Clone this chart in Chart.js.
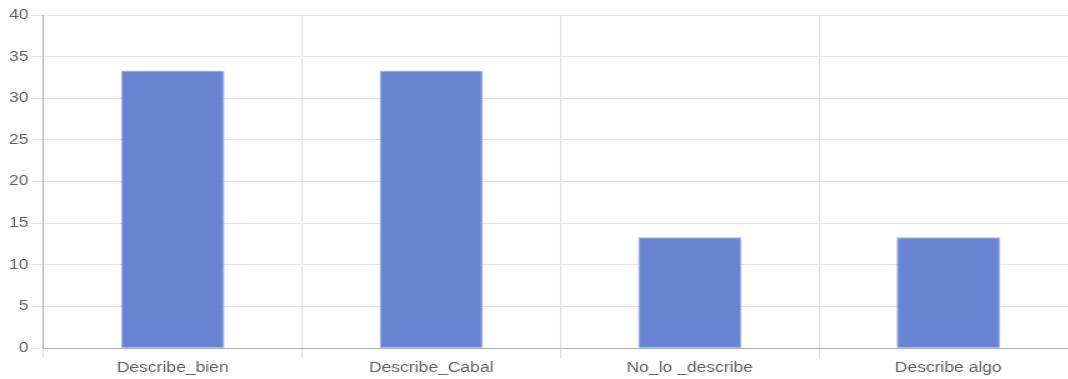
<!DOCTYPE html>
<html>
<head>
<meta charset="utf-8">
<script src="https://cdn.jsdelivr.net/npm/chart.js@4.4.1/dist/chart.umd.min.js"></script>
<style>
  html, body { margin: 0; padding: 0; background: #fff; overflow: hidden; }
  /* the reference is stretched sideways, so the chart is drawn narrower and widened */
  #wrap { width: 862px; height: 379px; transform: scaleX(1.25); transform-origin: 0 0; }
</style>
</head>
<body>
<div id="wrap"><canvas id="chart"></canvas></div>
<script>
const categories = ["Describe_bien", "Describe_Cabal", "No_lo _describe", "Describe algo"];
const values = [33.33, 33.33, 13.33, 13.33];
const yMin = 0;
const yMax = 40;
const yStep = 5;

Chart.defaults.font.family = "'Liberation Sans', Arial, sans-serif";
Chart.defaults.font.size = 14;
Chart.defaults.color = "#5e5e5e";

new Chart(document.getElementById("chart"), {
  type: "bar",
  data: {
    labels: categories,
    datasets: [{
      data: values,
      backgroundColor: "rgba(96,126,210,0.95)",
      borderColor: "rgba(155,178,235,1)",
      borderWidth: 1,
      barPercentage: 0.5,
      categoryPercentage: 0.8
    }]
  },
  options: {
    responsive: true,
    maintainAspectRatio: false,
    animation: false,
    layout: { padding: { top: 15, left: 5.2, right: 0, bottom: 0 } },
    plugins: { legend: { display: false }, tooltip: { enabled: false } },
    scales: {
      x: {
        grid: { color: "#dcdcdc", tickLength: 10 },
        border: { color: "#b0b0b0" },
        ticks: { padding: 2 }
      },
      y: {
        min: yMin,
        max: yMax,
        ticks: { stepSize: yStep, padding: 2 },
        grid: { color: "#e6e6e6", tickLength: 10 },
        border: { color: "#b0b0b0" }
      }
    }
  }
});
</script>
</body>
</html>
